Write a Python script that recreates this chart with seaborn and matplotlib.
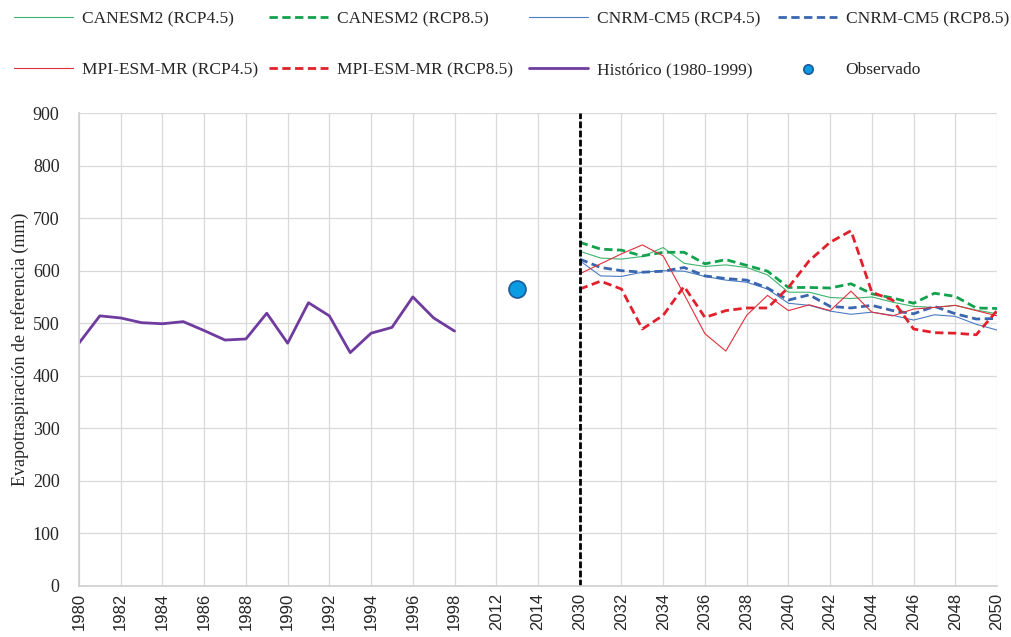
import matplotlib
matplotlib.use("Agg")
import matplotlib.pyplot as plt
import seaborn as sns

# categorias del eje x (anos), con huecos entre periodos
years_hist = list(range(1980, 1999))
years_gap = [1999, 2012, 2013, 2014, 2015]
years_fut = list(range(2030, 2051))
categories = [str(y) for y in sorted(years_hist + years_gap + years_fut)]

historico = [462, 514, 510, 501, 499, 503, 486, 468, 470, 519,
             462, 539, 514, 444, 481, 492, 550, 510, 485]

obs_year = 2013
observado = 565

canesm2_45 = [637, 624, 622, 627, 644, 614, 608, 611, 606, 592, 559,
              559, 549, 547, 550, 540, 532, 530, 534, 525, 518]
canesm2_85 = [654, 641, 639, 628, 635, 635, 613, 621, 610, 599, 568,
              568, 567, 575, 556, 548, 538, 557, 551, 529, 528]
cnrm_45 = [619, 590, 589, 597, 600, 599, 589, 582, 578, 565, 538,
           534, 523, 517, 521, 515, 506, 516, 513, 498, 487]
cnrm_85 = [622, 606, 600, 597, 599, 606, 590, 585, 582, 567, 544,
           554, 532, 529, 534, 524, 518, 532, 518, 508, 509]
mpi_45 = [594, 613, 632, 649, 628, 555, 480, 447, 515, 553, 524,
          535, 524, 561, 521, 514, 527, 530, 534, 524, 514]
mpi_85 = [565, 580, 565, 489, 515, 570, 511, 524, 529, 529, 568,
          619, 654, 676, 559, 544, 489, 482, 481, 478, 524]

idx = {c: i for i, c in enumerate(categories)}
x_hist = [idx[str(y)] for y in years_hist]
x_fut = [idx[str(y)] for y in years_fut]

sns.set_theme(style="whitegrid")
plt.rcParams['font.family'] = ['Liberation Serif', 'DejaVu Serif']

fig = plt.figure(figsize=(10.11, 6.37), dpi=100)
ax = fig.add_axes([0.0781, 0.0801, 0.9081, 0.7425])

dash = (0, (3, 1.6))
series = [
    (canesm2_45, 'CANESM2 (RCP4.5)', '#3db46d', '-', 0.8),
    (canesm2_85, 'CANESM2 (RCP8.5)', '#12a24e', dash, 2.0),
    (cnrm_45, 'CNRM-CM5 (RCP4.5)', '#4a7cc2', '-', 0.8),
    (cnrm_85, 'CNRM-CM5 (RCP8.5)', '#3a66b0', dash, 2.0),
    (mpi_45, 'MPI-ESM-MR (RCP4.5)', '#e0303c', '-', 0.8),
    (mpi_85, 'MPI-ESM-MR (RCP8.5)', '#e2202c', dash, 2.0),
]
for vals, name, col, ls, lw in series:
    sns.lineplot(x=x_fut, y=vals, ax=ax, color=col, linestyle=ls,
                 linewidth=lw, label=name)

sns.lineplot(x=x_hist, y=historico, ax=ax, color='#6f3b9e', linewidth=2.0,
             label='Histórico (1980-1999)')
sns.scatterplot(x=[idx[str(obs_year)]], y=[observado], ax=ax, s=150,
                color='#0a9be3', edgecolor='#1d5a98', linewidth=1.2,
                label='Observado', zorder=5)

ax.axvline(idx['2030'], color='black', linewidth=2.0, linestyle=(0, (2.4, 0.9)))

ax.set_xlim(0, len(categories) - 1)
ax.set_ylim(0, 900)
ax.set_yticks(range(0, 901, 100))
ticks = list(range(0, len(categories), 2))
ax.set_xticks(ticks)
ax.set_xticklabels([categories[i] for i in ticks], rotation=90,
                   family=['Liberation Sans'], fontsize=12)
ax.tick_params(axis='y', labelsize=13, length=0, pad=14)
ax.tick_params(axis='x', length=0, pad=5)
ax.grid(True, color='#d9d9d9', linewidth=0.9)
for s in ['top', 'right']:
    ax.spines[s].set_visible(False)
for s in ['left', 'bottom']:
    ax.spines[s].set_color('#d0d0d0')
ax.set_ylabel('Evapotraspiración de referencia (mm)', fontsize=13)
ax.yaxis.set_label_coords(-0.054, 0.5)

handles, labels = ax.get_legend_handles_labels()
ax.legend_.remove()

# una leyenda por columna, como en el original (4 columnas x 2 filas)
col_x = [14, 269, 529, 778]
for c, x0 in enumerate(col_x):
    fig.legend([handles[c], handles[c + 4]], [labels[c], labels[c + 4]],
               loc='upper left', bbox_to_anchor=(x0 / 1011, 1 - 11 / 637),
               frameon=False, fontsize=12.5, handlelength=3.4,
               handletextpad=0.5, labelspacing=2.0, borderpad=0,
               borderaxespad=0, markerscale=0.55)

fig.savefig('out.png', dpi=100)
